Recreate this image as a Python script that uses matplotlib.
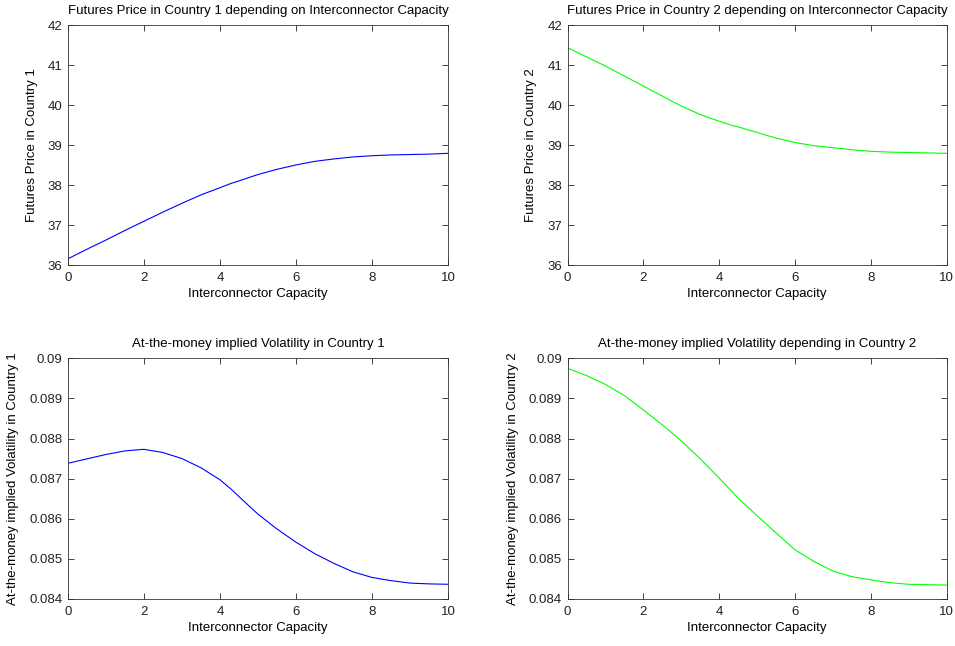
import numpy as np
import matplotlib.pyplot as plt

plt.rcParams['font.family'] = ['Liberation Sans', 'DejaVu Sans']

# interconnector capacity sample points
cap = [0, 0.5, 1, 1.5, 2, 2.5, 3, 3.5, 4, 4.3, 4.5, 5, 5.5, 6, 6.5, 7, 7.5, 8, 8.5, 9, 9.5, 10]

fut1 = [36.16, 36.40, 36.63, 36.87, 37.10, 37.33, 37.55, 37.76, 37.94, 38.05, 38.11, 38.27,
        38.40, 38.51, 38.60, 38.66, 38.71, 38.74, 38.76, 38.77, 38.78, 38.80]
fut2 = [41.44, 41.21, 40.98, 40.73, 40.48, 40.23, 39.98, 39.77, 39.60, 39.51, 39.46, 39.32,
        39.18, 39.07, 38.99, 38.94, 38.89, 38.85, 38.83, 38.82, 38.81, 38.80]
vol1 = [0.08738, 0.08749, 0.08760, 0.08769, 0.08773, 0.08765, 0.08750, 0.08727, 0.08697, 0.08673,
        0.08655, 0.08611, 0.08574, 0.08541, 0.08512, 0.08488, 0.08467, 0.08453, 0.08445, 0.08439,
        0.08437, 0.08436]
vol2 = [0.08975, 0.08957, 0.08935, 0.08907, 0.08871, 0.08834, 0.08794, 0.08749, 0.08701, 0.08671,
        0.08651, 0.08607, 0.08564, 0.08522, 0.08493, 0.08469, 0.08455, 0.08447, 0.08440, 0.08436,
        0.08435, 0.08434]

titles = ["Futures Price in Country 1 depending on Interconnector Capacity",
          "Futures Price in Country 2 depending on Interconnector Capacity",
          "At-the-money implied Volatility in Country 1",
          "At-the-money implied Volatility depending in Country 2"]
ylabels = ["Futures Price in Country 1", "Futures Price in Country 2",
           "At-the-money implied Volatility in Country 1",
           "At-the-money implied Volatility in Country 2"]

fig = plt.figure(figsize=(9.55, 6.46), dpi=100)
rects = [[0.0709, 0.5893, 0.3985, 0.3715], [0.5944, 0.5893, 0.3969, 0.3715],
         [0.0709, 0.0732, 0.3985, 0.3720], [0.5944, 0.0732, 0.3969, 0.3720]]
series = [fut1, fut2, vol1, vol2]
colors = ["#0000ff", "#00ff00", "#0000ff", "#00ff00"]

for i, r in enumerate(rects):
    ax = fig.add_axes(r)
    ax.plot(cap, series[i], color=colors[i], lw=0.8)
    ax.set_xlim(0, 10)
    ax.set_xticks([0, 2, 4, 6, 8, 10])
    if i < 2:
        ax.set_ylim(36, 42)
        ax.set_yticks(range(36, 43))
    else:
        ax.set_ylim(0.084, 0.09)
        ax.set_yticks([0.084, 0.085, 0.086, 0.087, 0.088, 0.089, 0.09])
        ax.set_yticklabels(["0.084", "0.085", "0.086", "0.087", "0.088", "0.089", "0.09"])
    ax.tick_params(direction='in', top=True, right=True, labelsize=9.5, length=4, width=0.6,
                   colors='#222222')
    ax.tick_params(axis='x', pad=5)
    ax.tick_params(axis='y', pad=4)
    for s in ax.spines.values():
        s.set_linewidth(0.6)
        s.set_color('#333333')
    ax.set_title(titles[i], fontsize=9.5, pad=8)
    ax.set_xlabel("Interconnector Capacity", fontsize=9.5, labelpad=3)
    ax.set_ylabel(ylabels[i], fontsize=9.5, labelpad=7)

fig.savefig("out.png", dpi=100)
